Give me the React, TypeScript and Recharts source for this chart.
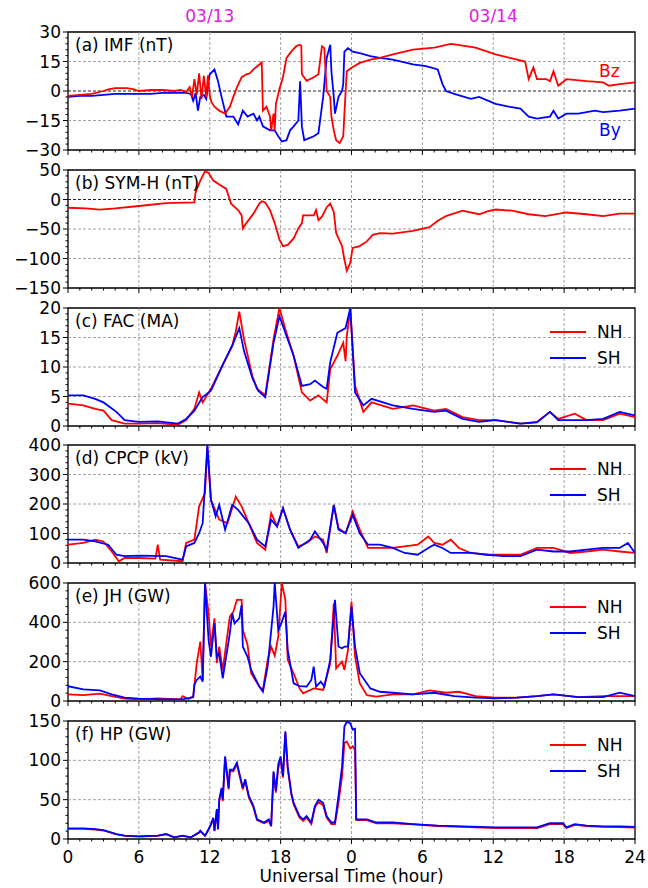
import React from 'react';
import { LineChart, Line, XAxis, YAxis, ReferenceLine, ReferenceArea } from 'recharts';

type Pt = [number, number];

// hour of the two-day window, value
const imfBy: Pt[] = [
  [0, -3], [1, -2.5], [2, -2.5], [3, -2], [4, -1.5], [5, -1.5], [6, -1.5], [7, -1.5], [8, -1], [9, -1],
  [10, -1], [10.4, -1.5], [10.6, -5], [10.8, -1], [11, -10], [11.2, -3], [11.5, -2], [11.7, -4], [11.9, 5],
  [12, 8.5], [12.4, 11], [12.7, 5], [13, -3], [13.4, -13], [14, -13], [14.4, -17], [14.8, -10], [15.2, -13],
  [15.7, -11.5], [16, -15], [16.2, -13], [16.5, -18], [17.1, -20], [17.5, -20], [17.8, -23], [18.1, -25.7],
  [18.5, -25], [18.8, -20], [19.1, -18], [19.5, -15], [19.65, 5], [19.8, -18], [20, -25], [20.8, -23],
  [21.2, -21.5], [21.6, -3], [21.9, 16.8], [22.2, 23.5], [22.3, 10], [22.5, -3], [22.6, -11.5], [22.9, -3],
  [23.2, 0], [23.3, 3.5], [23.4, 20], [23.7, 21.8], [24.1, 20], [24.7, 19.3], [25.6, 17.7], [26.4, 16.8],
  [27.5, 16], [29.2, 13.5], [30.3, 12.7], [31.3, 11], [31.7, 3.5], [32, 0], [32.7, -1.5], [34.1, -4],
  [34.8, -3], [36.2, -6.5], [37.3, -8], [38.3, -9], [39, -13], [39.7, -14], [40.8, -13], [41.1, -10],
  [41.5, -14], [42.2, -11.5], [43.2, -11.5], [44.6, -10], [45.3, -10.7], [46.7, -10], [48, -9],
];

const imfBz: Pt[] = [
  [0, -2.5], [1, -2], [2, -1.5], [3, 0], [3.5, 1], [4, 1.5], [5, 1.5], [5.5, 1], [6, 0], [7, 0.5], [8, 0.5],
  [9, 0], [9.5, 0.5], [10, -0.5], [10.3, 2], [10.5, -3], [10.7, 6], [10.9, -2], [11.1, 9], [11.3, -4],
  [11.5, 7.7], [11.7, -3], [11.85, 8], [12, -2.3], [12.15, -5.7], [12.4, -8], [12.8, -10], [13.3, -11.5],
  [13.7, -8], [14, -3], [14.3, 1.8], [14.7, 7], [15.1, 8.5], [15.4, 9], [15.7, 11], [16.2, 13.5], [16.4, 14.5],
  [16.5, -10], [16.8, -8], [17.1, -13], [17.2, -20], [17.4, -11.5], [17.5, -20], [17.6, -6.5], [17.9, 1],
  [18.2, 7], [18.5, 16.8], [18.9, 20], [19.3, 22.7], [19.6, 23.5], [19.75, 23], [19.8, 8.5], [20.2, 5.2],
  [20.8, 7], [21.2, 8.5], [21.4, 18], [21.5, 22.7], [21.7, 21.8], [21.9, 0], [22.2, -3], [22.3, -13],
  [22.5, -20], [22.7, -25], [23, -26.5], [23.3, -23], [23.4, -11.5], [23.6, 10], [24, 11.8], [24.7, 14.3],
  [25.6, 16], [26.4, 16.8], [27.5, 18.6], [29.2, 21], [31, 22], [32.4, 24], [33, 23.5], [34.5, 22],
  [36.2, 18.6], [38, 16], [38.7, 15], [39, 6], [39.4, 12], [39.7, 6], [40.5, 6], [40.8, 5], [41.1, 10],
  [41.5, 2.7], [42.2, 6], [43.9, 5], [45.3, 4.4], [45.8, 2.7], [46.7, 3.5], [48, 4.4],
];

const symH: Pt[] = [
  [0, -14], [1.5, -15], [2.7, -17], [4, -15], [6, -11], [8.3, -6], [10.7, -5], [10.8, 12], [11.2, 32],
  [11.6, 48], [11.9, 45], [12.3, 32], [13, 23], [13.4, 18], [13.8, -7], [14.4, -18], [14.7, -27], [14.8, -49],
  [15.1, -40], [15.7, -24], [16.2, -7], [16.4, -3], [16.7, -5], [17.1, -18], [17.5, -40], [17.9, -68],
  [18.2, -79], [18.6, -77], [19.1, -66], [19.5, -49], [19.8, -40], [19.9, -27], [20.8, -27], [21, -18],
  [21.2, -35], [21.5, -29], [21.9, -13], [22.2, -7], [22.5, -21], [22.7, -57], [23.2, -79], [23.4, -102],
  [23.6, -121], [23.9, -107], [24.1, -82], [24.7, -79], [25.3, -71], [25.8, -60], [26.4, -57], [27.5, -58],
  [29.2, -53], [30.6, -47], [31.3, -36], [32, -28], [33.4, -19], [34.8, -25], [35.5, -20], [36.2, -17],
  [37.6, -19], [39, -25], [40.4, -28], [42.2, -22], [43.9, -25], [45.3, -28], [46.7, -24], [48, -24],
];

const facNH: Pt[] = [
  [0, 3.8], [1.3, 3.5], [2.3, 2.9], [3, 2.6], [3.7, 1], [4.8, 0.4], [6, 0.4], [7.6, 0.5], [9.3, 0.2], [10, 1],
  [10.7, 2.9], [11.1, 5.7], [11.4, 4], [12.1, 6.3], [13.2, 10.8], [13.9, 13.6], [14.2, 16], [14.5, 19.4],
  [14.9, 14.7], [15.6, 8.5], [16, 6.3], [16.7, 5.2], [17.4, 14.7], [17.9, 20], [18.4, 16.4], [19.1, 11.9],
  [19.8, 5.7], [20.5, 4.3], [21.2, 5.2], [21.9, 4], [22.2, 9.6], [22.8, 11.9], [23.3, 14.1], [23.5, 11],
  [23.6, 15.2], [23.9, 19.7], [24.3, 6.8], [25, 2.4], [25.7, 4], [27.5, 2.9], [29.2, 3.5], [31, 2.6], [32, 2.9],
  [33.4, 1.5], [34.8, 1], [36.2, 1], [38.3, 0.4], [39.7, 0.7], [40.8, 2.4], [41.5, 1.2], [42.9, 2.1],
  [43.9, 1], [45.3, 1], [46.7, 2.1], [48, 1.5],
];

const facSH: Pt[] = [
  [0, 5.2], [1.3, 5.2], [2.3, 4.6], [3, 4], [4.1, 2.4], [4.8, 1], [6, 0.7], [7.6, 0.8], [9.3, 0.4], [10, 1.2],
  [10.7, 2.6], [11.4, 4.9], [12.1, 6], [13.2, 10.8], [13.9, 13.6], [14.5, 16.6], [14.9, 12.7], [15.6, 8.2],
  [16.1, 6], [16.7, 4.9], [17.4, 14.1], [17.9, 18.6], [18.4, 15.8], [19.1, 11.9], [19.8, 6.8], [20.5, 7.1],
  [20.9, 7.7], [21.6, 6.6], [21.9, 6.3], [22.2, 10.8], [22.8, 15.8], [23.5, 16.6], [23.9, 20], [24.3, 5.7],
  [25, 3.5], [25.7, 4.6], [27.5, 3.5], [29.2, 2.9], [31, 2.4], [32, 2.6], [33.4, 1.2], [34.8, 0.7], [36.2, 1],
  [38.3, 0.4], [39.7, 0.6], [40.8, 2.4], [41.5, 1], [43.9, 1], [45.3, 1.2], [46.7, 2.4], [48, 1.8],
];

const cpcpNH: Pt[] = [
  [0, 62], [1.3, 68], [2.3, 79], [3, 73], [3.7, 39], [4.3, 6], [4.8, 17], [6, 17], [7.4, 15], [7.6, 62],
  [7.8, 11], [9.7, 6], [10, 68], [10.7, 79], [11.1, 192], [11.6, 237], [11.8, 394], [12.1, 214], [12.8, 147],
  [13.5, 135], [14.2, 225], [14.7, 192], [15.3, 135], [16, 68], [16.7, 45], [17.2, 169], [17.7, 124],
  [18.2, 186], [18.8, 113], [19.5, 56], [20.2, 68], [20.9, 90], [21.6, 79], [21.9, 34], [22.5, 197],
  [22.9, 118], [23.5, 101], [24.1, 175], [24.7, 113], [25.4, 51], [26.4, 51], [27.5, 51], [28.5, 56],
  [29.6, 62], [30.5, 90], [31, 68], [31.7, 62], [32.4, 79], [33.1, 51], [34.1, 34], [35.5, 28], [36.9, 28],
  [38.3, 28], [39.7, 51], [41.1, 51], [42.5, 34], [43.9, 39], [45.3, 45], [46.7, 39], [48, 34],
];

const cpcpSH: Pt[] = [
  [0, 79], [1.3, 79], [2.3, 73], [3.4, 62], [4.1, 28], [4.8, 23], [6, 25], [8.3, 23], [9.7, 11], [10, 56],
  [10.7, 68], [11.1, 101], [11.4, 135], [11.8, 400], [12.1, 214], [12.5, 158], [12.8, 197], [13.3, 113],
  [13.9, 197], [14.4, 180], [15.3, 135], [16, 79], [16.7, 56], [17.2, 147], [17.7, 124], [18.2, 186],
  [18.8, 113], [19.5, 51], [20.5, 79], [20.9, 107], [21.6, 68], [21.9, 45], [22.5, 197], [22.9, 113],
  [23.5, 101], [24.1, 163], [24.7, 101], [25.4, 62], [26.4, 62], [27.5, 51], [28.5, 34], [29.6, 28],
  [30.5, 51], [31, 62], [31.7, 51], [32.4, 34], [34.1, 34], [35.5, 28], [36.9, 23], [38.3, 23], [39.7, 45],
  [41.1, 39], [42.5, 39], [43.9, 45], [45.3, 51], [46.7, 51], [47.4, 68], [48, 34],
];

const jhNH: Pt[] = [
  [0, 34], [1.3, 30], [2.7, 37], [3.7, 25], [4.8, 12], [6, 8], [7.6, 13], [9.5, 8], [9.7, 25], [10.2, 10],
  [10.4, 17], [10.6, 22], [10.9, 192], [11.2, 302], [11.4, 107], [11.6, 600], [11.9, 446], [12.1, 276],
  [12.4, 420], [12.6, 192], [12.8, 276], [13.1, 158], [13.7, 429], [14, 454], [14.3, 514], [14.7, 514],
  [14.8, 361], [15.2, 285], [15.5, 141], [16.2, 73], [16.5, 56], [16.9, 208], [17.2, 276], [17.5, 230],
  [17.8, 327], [18.1, 600], [18.4, 514], [18.6, 208], [19.1, 141], [19.6, 64], [19.9, 39], [20.8, 64],
  [21.6, 56], [22.2, 192], [22.5, 497], [22.7, 166], [23.2, 200], [23.4, 158], [23.7, 259], [24, 505],
  [24.3, 225], [24.7, 90], [25.3, 30], [26.1, 22], [27.5, 34], [29.2, 34], [30.6, 54], [32, 42], [33.1, 47],
  [34.5, 25], [36.2, 17], [38, 17], [39.7, 25], [41.1, 34], [43.2, 20], [45.3, 25], [46.7, 25], [48, 25],
];

const jhSH: Pt[] = [
  [0, 75], [1.3, 59], [2.7, 54], [3.7, 34], [4.8, 17], [6, 12], [8.3, 8], [9.7, 8], [10.4, 17], [10.6, 19],
  [10.7, 84], [10.9, 107], [11.2, 124], [11.4, 98], [11.6, 600], [11.9, 310], [12.1, 225], [12.4, 395],
  [12.6, 225], [12.8, 242], [13.1, 115], [13.7, 344], [13.9, 446], [14.1, 395], [14.5, 420], [14.7, 488],
  [14.8, 276], [15.2, 225], [15.5, 158], [16.2, 73], [16.5, 47], [16.9, 175], [17.4, 480], [17.5, 600],
  [17.8, 361], [18, 386], [18.4, 454], [18.6, 259], [19.1, 90], [19.6, 76], [20.2, 73], [20.6, 107],
  [20.8, 175], [21, 73], [21.4, 98], [21.7, 73], [22.2, 208], [22.6, 514], [22.9, 276], [23.2, 268],
  [23.4, 276], [23.7, 276], [24, 480], [24.3, 276], [24.7, 141], [25.6, 64], [26.4, 47], [27.5, 42],
  [29.2, 34], [31, 42], [32.7, 25], [34.5, 17], [36.2, 13], [38, 17], [39.7, 25], [41.1, 34], [43.2, 20],
  [45.3, 20], [46.7, 42], [48, 25],
];

const hpNH: Pt[] = [
  [0, 12.8], [1.3, 12.8], [2.3, 12], [3, 10.8], [4.1, 6], [4.8, 4], [6, 3.2], [7.6, 4], [8.3, 6], [9, 2],
  [9.7, 4], [10.4, 2], [11.1, 8], [11.2, 10], [11.6, 4], [11.9, 12], [12.1, 18], [12.3, 26], [12.4, 10],
  [12.6, 37], [12.7, 12], [12.8, 48], [13, 63], [13.1, 48], [13.3, 103], [13.6, 63], [13.7, 86], [14, 86],
  [14.3, 95], [14.5, 82], [14.8, 63], [15, 74], [15.3, 53], [15.7, 40], [16, 24], [16.6, 20], [17, 23],
  [17.2, 16], [17.4, 84], [17.6, 59], [17.8, 90], [18, 100], [18.2, 78], [18.4, 135], [18.6, 89], [18.9, 57],
  [19.1, 44], [19.6, 27], [19.9, 23], [20.2, 27], [20.6, 19], [20.9, 40], [21.2, 47], [21.6, 43], [21.9, 27],
  [22.3, 19], [22.6, 19], [22.9, 46], [23.2, 80], [23.4, 122], [23.6, 124], [23.9, 115], [24.1, 118],
  [24.3, 113], [24.4, 24], [25.3, 24], [26.1, 20], [27.5, 20], [29.2, 18.5], [31.3, 16.5], [33.4, 15.5],
  [36.2, 14], [38.3, 14], [39.7, 14], [40.8, 19], [41.9, 19], [42.2, 14], [42.9, 18], [43.9, 16.5],
  [45.3, 15.5], [46.7, 15], [48, 14.5],
];

const hpSH: Pt[] = [
  [0, 13.4], [1.3, 13.4], [2.3, 12.6], [3, 11.3], [4.1, 6.3], [4.8, 4.2], [6, 3.4], [7.6, 4.2], [8.3, 6.3],
  [9, 2.1], [9.7, 4.2], [10.4, 2.1], [11.1, 8.4], [11.2, 10.5], [11.6, 4.2], [11.9, 12.6], [12.1, 19],
  [12.3, 27], [12.4, 10.5], [12.6, 38], [12.7, 12.6], [12.8, 50], [13, 65], [13.1, 50], [13.3, 105],
  [13.6, 65], [13.7, 88], [14, 88], [14.3, 97], [14.5, 84], [14.8, 65], [15, 76], [15.3, 55], [15.7, 42],
  [16, 25], [16.6, 21], [17, 25], [17.2, 17], [17.4, 86], [17.6, 61], [17.8, 95], [18, 105], [18.2, 80],
  [18.4, 137], [18.6, 92], [18.9, 59], [19.1, 46], [19.6, 29], [19.9, 25], [20.2, 29], [20.6, 21], [20.9, 42],
  [21.2, 50], [21.6, 46], [21.9, 29], [22.3, 21], [22.6, 21], [22.9, 55], [23.2, 92], [23.4, 143],
  [23.6, 149], [23.9, 147], [24.1, 139], [24.3, 140], [24.4, 25], [25.3, 25], [26.1, 21], [27.5, 21],
  [29.2, 19], [31.3, 17], [33.4, 16], [36.2, 14.7], [38.3, 14.7], [39.7, 14.7], [40.8, 20], [41.9, 20],
  [42.2, 14.7], [42.9, 19], [43.9, 17], [45.3, 16], [46.7, 16], [48, 15.5],
];

const hourTicks = Array.from({ length: 49 }, (_, i) => i);
const gridHours = [6, 12, 18, 24, 30, 36, 42];
const dayLabels = [
  { hour: 12, text: '03/13' },
  { hour: 36, text: '03/14' },
];

const RED = '#ff0000';
const BLUE = '#0000ff';
const FONT = '"DejaVu Sans", sans-serif';

const W = 648;
const PLOT_LEFT = 68;
const PLOT_RIGHT = 635;
const PLOT_H = 118;
const FIRST_TOP = 32;
const STEP = 137.8;
const PAD_TOP = 12;
const X_AXIS_H = 30;

const hx = (h: number) => PLOT_LEFT + (h / 48) * (PLOT_RIGHT - PLOT_LEFT);

type Series = { name: string; color: string; points: Pt[] };

type PanelDef = {
  label: string;
  domain: [number, number];
  major: number;
  minor: number;
  series: Series[];
  zeroLine?: boolean;
  legend?: boolean;
};

const panels: PanelDef[] = [
  {
    label: '(a) IMF (nT)', domain: [-30, 30], major: 15, minor: 3, zeroLine: true,
    series: [{ name: 'By', color: BLUE, points: imfBy }, { name: 'Bz', color: RED, points: imfBz }],
  },
  {
    label: '(b) SYM-H (nT)', domain: [-150, 50], major: 50, minor: 10, zeroLine: true,
    series: [{ name: 'SYM-H', color: RED, points: symH }],
  },
  {
    label: '(c) FAC (MA)', domain: [0, 20], major: 5, minor: 1, legend: true,
    series: [{ name: 'NH', color: RED, points: facNH }, { name: 'SH', color: BLUE, points: facSH }],
  },
  {
    label: '(d) CPCP (kV)', domain: [0, 400], major: 100, minor: 20, legend: true,
    series: [{ name: 'NH', color: RED, points: cpcpNH }, { name: 'SH', color: BLUE, points: cpcpSH }],
  },
  {
    label: '(e) JH (GW)', domain: [0, 600], major: 200, minor: 40, legend: true,
    series: [{ name: 'NH', color: RED, points: jhNH }, { name: 'SH', color: BLUE, points: jhSH }],
  },
  {
    label: '(f) HP (GW)', domain: [0, 150], major: 50, minor: 10, legend: true,
    series: [{ name: 'NH', color: RED, points: hpNH }, { name: 'SH', color: BLUE, points: hpSH }],
  },
];

const fmt = (v: number) => (v < 0 ? '\u2212' + Math.abs(v) : String(v));

function stepsOf(lo: number, hi: number, step: number) {
  const out: number[] = [];
  for (let v = lo; v <= hi + 1e-9; v += step) out.push(Math.round(v * 1000) / 1000);
  return out;
}

function makeYTick(major: number) {
  return (props: any) => {
    const { x, y, payload } = props;
    const v = payload.value as number;
    const isMajor = Math.abs(v / major - Math.round(v / major)) < 1e-6;
    const len = isMajor ? 5 : 2.5;
    return (
      <g>
        <line x1={x - len} x2={x} y1={y} y2={y} stroke="#000" strokeWidth={1} />
        {isMajor && (
          <text x={x - len - 2} y={y} textAnchor="end" dominantBaseline="central"
            fontSize={17} fontFamily={FONT} fill="#000">
            {fmt(v)}
          </text>
        )}
      </g>
    );
  };
}

function makeXTick(showLabels: boolean) {
  return (props: any) => {
    const { x, y, payload } = props;
    const h = payload.value as number;
    const isMajor = h % 6 === 0;
    const len = isMajor ? 5 : 2.5;
    return (
      <g>
        <line x1={x} x2={x} y1={y} y2={y + len} stroke="#000" strokeWidth={1} />
        {showLabels && isMajor && (
          <text x={x} y={y + 18} textAnchor="middle" dominantBaseline="central"
            fontSize={17} fontFamily={FONT} fill="#000">
            {h === 48 ? 24 : h % 24}
          </text>
        )}
      </g>
    );
  };
}

function Panel({ def, index, last }: { def: PanelDef; index: number; last: boolean }) {
  const top = FIRST_TOP + index * STEP;
  const [lo, hi] = def.domain;
  const yTicks = stepsOf(lo, hi, def.minor);
  const yGrid = stepsOf(lo, hi, def.major).filter((v) => v !== lo && v !== hi && !(def.zeroLine && v === 0));
  return (
    <div style={{ position: 'absolute', left: 0, top: top - PAD_TOP, width: W }}>
      <LineChart width={W} height={PLOT_H + PAD_TOP + X_AXIS_H}
        margin={{ top: PAD_TOP, right: W - PLOT_RIGHT, bottom: 0, left: 7 }}>
        <XAxis dataKey="t" type="number" domain={[0, 48]} ticks={hourTicks} interval={0}
          height={X_AXIS_H} axisLine={false} tickLine={false} tickSize={0} tickMargin={0}
          tick={makeXTick(last)} allowDataOverflow />
        <YAxis type="number" domain={def.domain} ticks={yTicks} interval={0} width={PLOT_LEFT - 7}
          axisLine={false} tickLine={false} tickSize={0} tickMargin={0}
          tick={makeYTick(def.major)} allowDataOverflow />
        {gridHours.map((h) => (
          <ReferenceLine key={'gx' + h} x={h} stroke="#8c8c8c" strokeWidth={0.8} strokeDasharray="3 2" />
        ))}
        {yGrid.map((v) => (
          <ReferenceLine key={'gy' + v} y={v} stroke="#8c8c8c" strokeWidth={0.8} strokeDasharray="3 2" />
        ))}
        {def.zeroLine && <ReferenceLine y={0} stroke="#222" strokeWidth={1} strokeDasharray="3 2" />}
        {def.series.map((s) => (
          <Line key={s.name} name={s.name} data={s.points.map(([t, v]) => ({ t, v }))} dataKey="v"
            type="linear" stroke={s.color} strokeWidth={1.8} dot={false} activeDot={false}
            isAnimationActive={false} />
        ))}
        <ReferenceArea x1={0} x2={48} y1={lo} y2={hi} fill="none" stroke="#000" strokeWidth={1.3} />
      </LineChart>
      <div style={{ position: 'absolute', left: PLOT_LEFT + 7, top: PAD_TOP + 3, fontSize: 17, fontFamily: FONT, whiteSpace: 'nowrap' }}>
        {def.label}
      </div>
      {def.legend && (
        <svg style={{ position: 'absolute', left: 0, top: 0 }} width={W} height={PLOT_H + PAD_TOP}>
          {def.series.map((s, i) => (
            <g key={s.name}>
              <line x1={550} x2={586} y1={PAD_TOP + 24 + i * 26} y2={PAD_TOP + 24 + i * 26} stroke={s.color} strokeWidth={1.8} />
              <text x={597} y={PAD_TOP + 24 + i * 26} dominantBaseline="central" fontSize={17} fontFamily={FONT}>{s.name}</text>
            </g>
          ))}
        </svg>
      )}
    </div>
  );
}

export default function App() {
  return (
    <div style={{ position: 'absolute', left: 0, top: 0, width: W, height: 888, background: '#fff', fontFamily: FONT }}>
      {dayLabels.map((d) => (
        <div key={d.text} style={{ position: 'absolute', left: hx(d.hour) - 40, width: 80, top: 6, textAlign: 'center', fontSize: 17, color: '#e020e0' }}>
          {d.text}
        </div>
      ))}
      {panels.map((p, i) => (
        <Panel key={p.label} def={p} index={i} last={i === panels.length - 1} />
      ))}
      <svg style={{ position: 'absolute', left: 0, top: 0 }} width={W} height={160}>
        <text x={599} y={FIRST_TOP + 39} dominantBaseline="central" fontSize={17} fontFamily={FONT} fill={RED}>Bz</text>
        <text x={599} y={FIRST_TOP + 98} dominantBaseline="central" fontSize={17} fontFamily={FONT} fill={BLUE}>By</text>
      </svg>
      <div style={{ position: 'absolute', left: PLOT_LEFT, width: PLOT_RIGHT - PLOT_LEFT, top: 866, textAlign: 'center', fontSize: 17 }}>
        Universal Time (hour)
      </div>
    </div>
  );
}
